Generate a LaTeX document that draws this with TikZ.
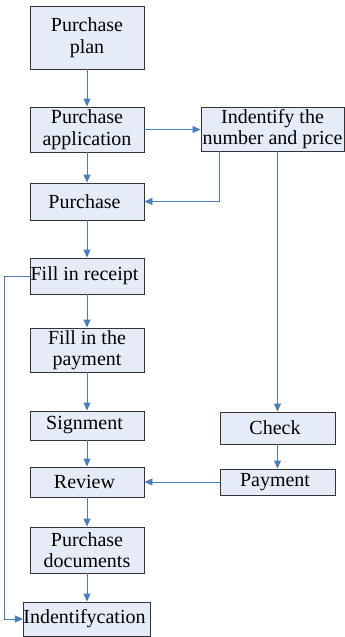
\documentclass[tikz,border=0pt]{standalone}
\usepackage{fontspec}
\setmainfont{Liberation Serif}
\usetikzlibrary{arrows.meta}
\definecolor{boxfill}{RGB}{230,236,247}
\definecolor{flowblue}{RGB}{74,126,187}
\tikzset{
  stage/.style={draw=black!80, fill=boxfill, line width=0.9pt, inner sep=0pt,
    align=center, font=\fontsize{20}{21.5}\selectfont, minimum width=114pt},
  flow/.style={draw=flowblue, line width=0.9pt, -{Triangle[length=8pt,width=7pt]}}
}
\begin{document}
\begin{tikzpicture}[x=1pt,y=-1pt]
  \useasboundingbox (0,0) rectangle (345,637);
  % left column
  \node [stage, minimum height=63pt] (plan) at (87,37.5) { Purchase\\plan };
  \node [stage, minimum height=45pt] (appl) at (87,129.5) { Purchase\\application };
  \node [stage, minimum height=37pt] (purch) at (87,201.5) { Purchase };
  \node [stage, minimum height=36pt] (receipt) at (87,276) { Fill in receipt };
  \node [stage, minimum height=44pt] (fpay) at (87,350) { Fill in the\\payment };
  \node [stage, minimum height=29pt] (sign) at (87,425.5) { Signment };
  \node [stage, minimum height=30pt] (review) at (87,482) { Review };
  \node [stage, minimum height=46pt] (docs) at (87,550) { Purchase\\documents };
  \node [stage, minimum height=34pt, minimum width=126pt] (idf) at (87,619) { Indentifycation };
  % right column
  \node [stage, minimum height=44pt, minimum width=143pt] (ident) at (272.5,129) { Indentify the\\number and price };
  \node [stage, minimum height=32pt, minimum width=115pt] (check) at (277.5,428) { Check };
  \node [stage, minimum height=26pt, minimum width=115pt] (pay) at (277.5,482) { Payment };

  \draw [flow] (plan) -- (appl);
  \draw [flow] (appl.east) -- (appl.east -| ident.west);
  \draw [flow] (appl) -- (purch);
  \draw [flow] ([xshift=19pt]ident.south west) |- (purch.east);
  \draw [flow] (check.north |- ident.south) -- (check.north);
  \draw [flow] (purch) -- (receipt);
  \draw [flow] (receipt) -- (fpay);
  \draw [flow] (fpay) -- (sign);
  \draw [flow] (sign) -- (review);
  \draw [flow] (review) -- (docs);
  \draw [flow] (docs) -- (idf);
  \draw [flow] (receipt.west) -- ++(-25,0) |- (idf.west);
  \draw [flow] (check) -- (pay);
  \draw [flow] (pay) -- (review);
\end{tikzpicture}
\end{document}
